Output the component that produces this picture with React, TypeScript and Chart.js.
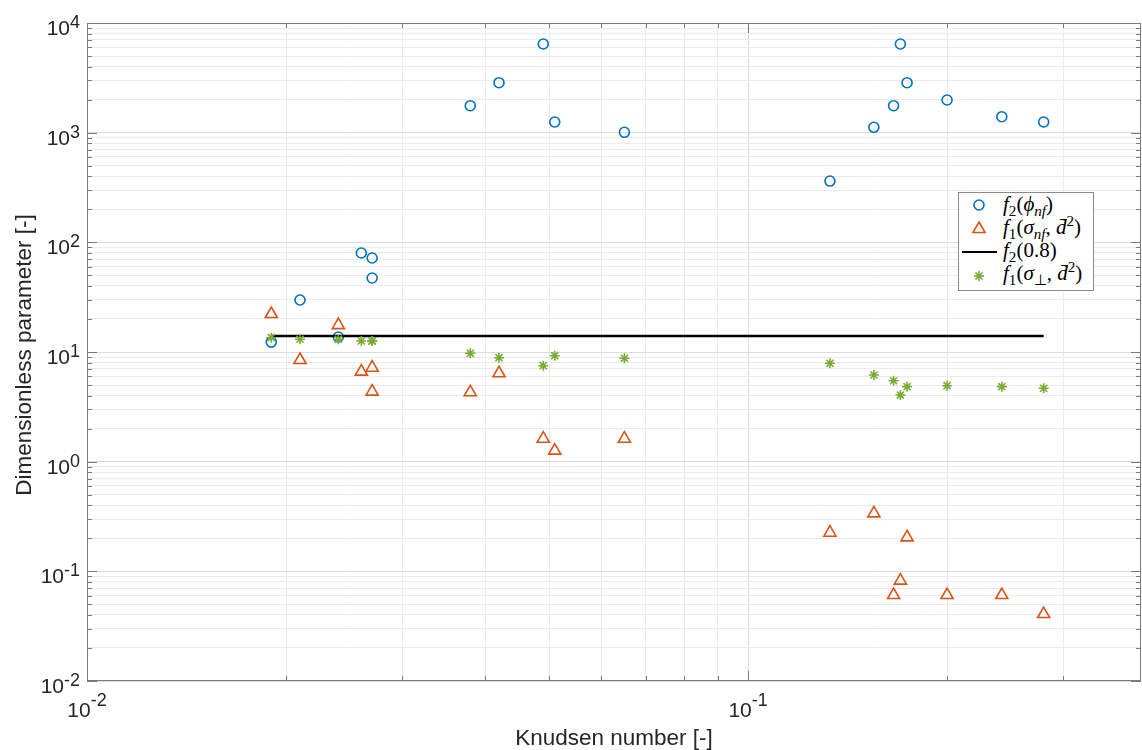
import React, { useEffect, useRef } from 'react';
import { Chart, registerables } from 'chart.js';

Chart.register(...registerables);

// ---- Data ----
const knudsen = [0.019, 0.021, 0.024, 0.026, 0.027, 0.027, 0.038, 0.042, 0.049, 0.051, 0.065, 0.133, 0.155, 0.166, 0.170, 0.174, 0.200, 0.242, 0.280];
const f2Phi = [12.3, 29.8, 13.7, 79.9, 72, 47.3, 1762, 2856, 6435, 1251, 1008, 362, 1119, 1762, 6435, 2856, 1985, 1399, 1251];
const f1SigmaNf = [22.2, 8.45, 17.6, 6.62, 7.19, 4.35, 4.29, 6.4, 1.62, 1.26, 1.62, 0.225, 0.338, 0.0608, 0.0822, 0.204, 0.0608, 0.0608, 0.0408];
const f1SigmaPerp = [13.5, 13.07, 13.07, 12.6, 12.6, 12.6, 9.73, 8.87, 7.5, 9.25, 8.77, 7.89, 6.17, 5.47, 4.05, 4.83, 4.93, 4.83, 4.67];
const refLineX = [0.019, 0.28];
const refLineY = [14.0, 14.0];

// ---- Axes ----
const xMin = 0.01;
const xMax = 0.393;
const yMin = 0.01;
const yMax = 10000;
const xMajorTicks = [0.01, 0.1];
const xMinorTicks = [0.02, 0.03, 0.04, 0.05, 0.06, 0.07, 0.08, 0.09, 0.2, 0.3];
const xTickExponents = ['-2', '-1'];
const yMajorTicks = [0.01, 0.1, 1, 10, 100, 1000, 10000];
const yTickExponents = ['-2', '-1', '0', '1', '2', '3', '4'];
const minorMultipliers = [2, 3, 4, 5, 6, 7, 8, 9];
const yMinorTicks = yMajorTicks.slice(0, -1).flatMap((d) => minorMultipliers.map((m) => +(d * m).toPrecision(3)));

const xTitle = 'Knudsen number [-]';
const yTitle = 'Dimensionless parameter [-]';

const BLUE = '#0072BD';
const ORANGE = '#D95319';
const GREEN = '#77AC30';
const AXIS = '#7a7a7a';
const GRID_MAJOR = '#dcdcdc';
const GRID_MINOR = '#ebebeb';
const SANS = '"Liberation Sans", Arial, Helvetica, sans-serif';

const axesPlugin = {
  id: 'matlabAxes',
  afterDraw(chart: any) {
    const { ctx, chartArea: a, scales } = chart;
    const x = scales.x;
    const y = scales.y;
    ctx.save();
    ctx.strokeStyle = AXIS;
    ctx.lineWidth = 1;
    const seg = (x1: number, y1: number, x2: number, y2: number) => {
      ctx.beginPath();
      ctx.moveTo(x1, y1);
      ctx.lineTo(x2, y2);
      ctx.stroke();
    };
    const xTick = (v: number, len: number) => {
      const px = Math.round(x.getPixelForValue(v)) + 0.5;
      seg(px, a.bottom, px, a.bottom - len);
      seg(px, a.top, px, a.top + len);
    };
    const yTick = (v: number, len: number) => {
      const py = Math.round(y.getPixelForValue(v)) + 0.5;
      seg(a.left, py, a.left + len, py);
      seg(a.right, py, a.right - len, py);
    };
    xMajorTicks.forEach((v) => xTick(v, 10));
    xMinorTicks.forEach((v) => xTick(v, 5));
    yMajorTicks.forEach((v) => yTick(v, 10));
    yMinorTicks.forEach((v) => yTick(v, 5));
    ctx.strokeRect(a.left + 0.5, a.top + 0.5, a.right - a.left - 1, a.bottom - a.top - 1);

    // tick labels
    ctx.fillStyle = '#262626';
    ctx.textBaseline = 'alphabetic';
    const baseFont = `21px ${SANS}`;
    const expFont = `18px ${SANS}`;
    xMajorTicks.forEach((v, i) => {
      const px = x.getPixelForValue(v);
      ctx.font = baseFont;
      const bw = ctx.measureText('10').width;
      ctx.font = expFont;
      const ew = ctx.measureText(xTickExponents[i]).width;
      const left = px - (bw + ew) / 2;
      ctx.textAlign = 'left';
      ctx.font = baseFont;
      ctx.fillText('10', left, a.bottom + 36);
      ctx.font = expFont;
      ctx.fillText(xTickExponents[i], left + bw, a.bottom + 25);
    });
    yMajorTicks.forEach((v, i) => {
      const py = y.getPixelForValue(v);
      const right = a.left - 7;
      ctx.font = expFont;
      const ew = ctx.measureText(yTickExponents[i]).width;
      ctx.textAlign = 'right';
      ctx.fillText(yTickExponents[i], right, py + 5);
      ctx.font = baseFont;
      ctx.fillText('10', right - ew, py + 12);
    });

    // axis titles
    ctx.font = `22.5px ${SANS}`;
    ctx.textAlign = 'center';
    ctx.fillText(xTitle, (a.left + a.right) / 2, a.bottom + 64);
    ctx.save();
    ctx.translate(31, 355);
    ctx.rotate(-Math.PI / 2);
    ctx.fillText(yTitle, 0, 0);
    ctx.restore();
    ctx.restore();
  },
};

function BarD() {
  return (
    <span style={{ position: 'relative', display: 'inline-block' }}>
      <i>d</i>
      <span style={{ position: 'absolute', left: 4, width: 7, top: 3, borderTop: '1.3px solid #000' }} />
    </span>
  );
}

function LegendBox() {
  const row = (top: number, content: React.ReactNode) => (
    <div style={{ position: 'absolute', left: 44, top, height: 23, lineHeight: '23px', whiteSpace: 'nowrap' }}>{content}</div>
  );
  const sub: React.CSSProperties = { fontSize: '0.72em', verticalAlign: '-0.3em', lineHeight: 0 };
  const sup: React.CSSProperties = { fontSize: '0.72em', verticalAlign: '0.55em', lineHeight: 0 };
  const r = 7;
  return (
    <div
      style={{
        position: 'absolute',
        left: 958,
        top: 192,
        width: 136,
        height: 99,
        boxSizing: 'border-box',
        border: '1px solid #8a8a8a',
        background: '#fff',
        fontFamily: '"Liberation Serif", "Times New Roman", serif',
        fontSize: 21,
        color: '#000',
      }}
    >
      <svg width={134} height={97} style={{ position: 'absolute', left: 0, top: 0 }}>
        <circle cx={20} cy={12} r={5} fill="none" stroke={BLUE} strokeWidth={1.6} />
        <polygon
          points={`20,${36 - r} ${20 + r * 0.866},${36 + r / 2} ${20 - r * 0.866},${36 + r / 2}`}
          fill="none"
          stroke={ORANGE}
          strokeWidth={1.6}
        />
        <line x1={3} y1={59} x2={38} y2={59} stroke="#000" strokeWidth={2} />
        <g stroke={GREEN} strokeWidth={1.6}>
          <line x1={20 - 5} y1={83} x2={20 + 5} y2={83} />
          <line x1={20} y1={83 - 5} x2={20} y2={83 + 5} />
          <line x1={20 - 3.5} y1={83 - 3.5} x2={20 + 3.5} y2={83 + 3.5} />
          <line x1={20 - 3.5} y1={83 + 3.5} x2={20 + 3.5} y2={83 - 3.5} />
        </g>
      </svg>
      {row(0, (
        <span>
          <i>f</i><span style={sub}>2</span>(<i>ϕ</i><span style={sub}><i>nf</i></span>)
        </span>
      ))}
      {row(23, (
        <span>
          <i>f</i><span style={sub}>1</span>(<i>σ</i><span style={sub}><i>nf</i></span>, <BarD /><span style={sup}>2</span>)
        </span>
      ))}
      {row(46, (
        <span>
          <i>f</i><span style={sub}>2</span>(0.8)
        </span>
      ))}
      {row(69, (
        <span>
          <i>f</i><span style={sub}>1</span>(<i>σ</i><span style={sub}>⊥</span>, <BarD /><span style={sup}>2</span>)
        </span>
      ))}
    </div>
  );
}

export default function App() {
  const canvasRef = useRef<HTMLCanvasElement | null>(null);

  useEffect(() => {
    if (!canvasRef.current) return;
    const pts = (ys: number[]) => knudsen.map((k, i) => ({ x: k, y: ys[i] }));
    const gridColor = (majors: number[]) => (c: any) =>
      c.tick && majors.includes(c.tick.value) ? GRID_MAJOR : GRID_MINOR;
    const chart = new Chart(canvasRef.current, {
      type: 'scatter',
      data: {
        datasets: [
          {
            label: 'f1(sigma_perp, d^2)',
            data: pts(f1SigmaPerp),
            pointStyle: 'star',
            pointRadius: 5,
            borderColor: GREEN,
            backgroundColor: GREEN,
            borderWidth: 1.6,
            order: 0,
          },
          {
            label: 'f2(0.8)',
            data: refLineX.map((v, i) => ({ x: v, y: refLineY[i] })),
            showLine: true,
            pointRadius: 0,
            borderColor: '#000',
            borderWidth: 2.5,
            order: 1,
          },
          {
            label: 'f1(sigma_nf, d^2)',
            data: pts(f1SigmaNf),
            pointStyle: 'triangle',
            pointRadius: 7,
            borderColor: ORANGE,
            backgroundColor: 'rgba(0,0,0,0)',
            borderWidth: 1.6,
            order: 2,
          },
          {
            label: 'f2(phi_nf)',
            data: pts(f2Phi),
            pointStyle: 'circle',
            pointRadius: 5,
            borderColor: BLUE,
            backgroundColor: 'rgba(0,0,0,0)',
            borderWidth: 1.6,
            order: 3,
          },
        ],
      },
      options: {
        animation: false,
        responsive: false,
        events: [],
        layout: { autoPadding: false, padding: { left: 87, top: 23, right: 1, bottom: 69 } },
        plugins: { legend: { display: false }, tooltip: { enabled: false } },
        scales: {
          x: {
            type: 'logarithmic',
            min: xMin,
            max: xMax,
            afterBuildTicks: (s: any) => {
              s.ticks = [...xMajorTicks, ...xMinorTicks].sort((a, b) => a - b).map((v) => ({ value: v }));
            },
            ticks: { display: false },
            grid: { drawTicks: false, color: gridColor(xMajorTicks), lineWidth: 1 },
            border: { display: false },
          },
          y: {
            type: 'logarithmic',
            min: yMin,
            max: yMax,
            afterBuildTicks: (s: any) => {
              s.ticks = [...yMajorTicks, ...yMinorTicks].sort((a, b) => a - b).map((v) => ({ value: v }));
            },
            ticks: { display: false },
            grid: { drawTicks: false, color: gridColor(yMajorTicks), lineWidth: 1 },
            border: { display: false },
          },
        },
      },
      plugins: [axesPlugin],
    } as any);
    return () => chart.destroy();
  }, []);

  return (
    <div style={{ position: 'absolute', left: 0, top: 0, width: 1142, height: 750, background: '#fff' }}>
      <canvas ref={canvasRef} width={1142} height={750} style={{ position: 'absolute', left: 0, top: 0 }} />
      <LegendBox />
    </div>
  );
}
